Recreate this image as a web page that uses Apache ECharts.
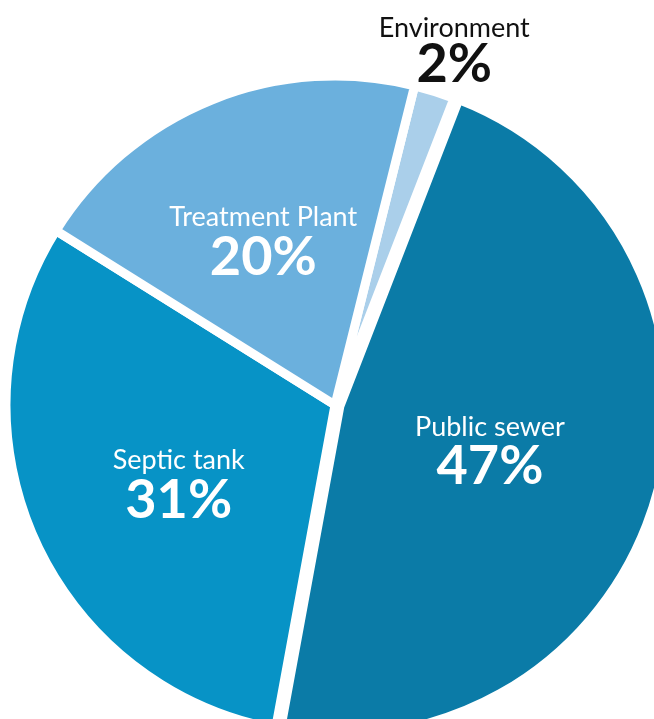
<!DOCTYPE html>
<html>
<head>
<meta charset="utf-8">
<style>
  html, body { margin: 0; padding: 0; background: #fff; }
  #chart { width: 654px; height: 719px; }
</style>
<script src="https://cdn.jsdelivr.net/npm/echarts@6/dist/echarts.min.js"></script>
</head>
<body>
<div id="chart"></div>
<script>
// Where wastewater ends up (share of total, %)
const categories = ['Environment', 'Public sewer', 'Septic tank', 'Treatment Plant'];
const shares = [2, 47, 31, 20];
const colors = ['#aacfea', '#0b7ba7', '#0793c6', '#6bb0dd'];
// Nudges for each slice's label, in px
const labelOffsets = [[-65, -28], [-11, 0], [-3, 13], [-9, -7]];

const FONT = 'Lato, "Noto Sans", sans-serif';

const chart = echarts.init(document.getElementById('chart'), null, { renderer: 'canvas' });

const data = categories.map((name, i) => {
  const item = {
    name,
    value: shares[i],
    itemStyle: { color: colors[i] },
    label: { offset: labelOffsets[i] }
  };
  if (name === 'Public sewer') {
    // largest slice pulled slightly out of the pie
    item.selected = true;
    item.select = { label: { offset: labelOffsets[i] } };
  }
  if (name === 'Environment') {
    item.label = {
      position: 'outside',
      offset: labelOffsets[i],
      rich: {
        n: { fontSize: 27, color: '#111', fontFamily: FONT, lineHeight: 30, align: 'center' },
        v: { fontSize: 54, fontWeight: 'bold', color: '#111', fontFamily: FONT, lineHeight: 44, align: 'center' }
      }
    };
    item.labelLine = { show: false, length: 14, length2: 0 };
  }
  return item;
});

chart.setOption({
  animation: false,
  backgroundColor: '#fff',
  series: [{
    type: 'pie',
    center: [335, 405],
    radius: [0, 329],
    startAngle: 76,
    clockwise: true,
    avoidLabelOverlap: false,
    selectedMode: 'multiple',
    selectedOffset: 5,
    data,
    itemStyle: {
      borderColor: '#fff',
      borderWidth: 9
    },
    select: { itemStyle: { borderColor: '#fff', borderWidth: 9 } },
    emphasis: { disabled: true },
    label: {
      show: true,
      position: 'inside',
      formatter: p => '{n|' + p.name + '}\n{v|' + p.value + '%}',
      rich: {
        n: { fontSize: 27, color: '#fff', fontFamily: FONT, lineHeight: 30, align: 'center' },
        v: { fontSize: 54, fontWeight: 'bold', color: '#fff', fontFamily: FONT, lineHeight: 50, align: 'center' }
      }
    },
    labelLine: { show: false }
  }]
});
</script>
</body>
</html>
